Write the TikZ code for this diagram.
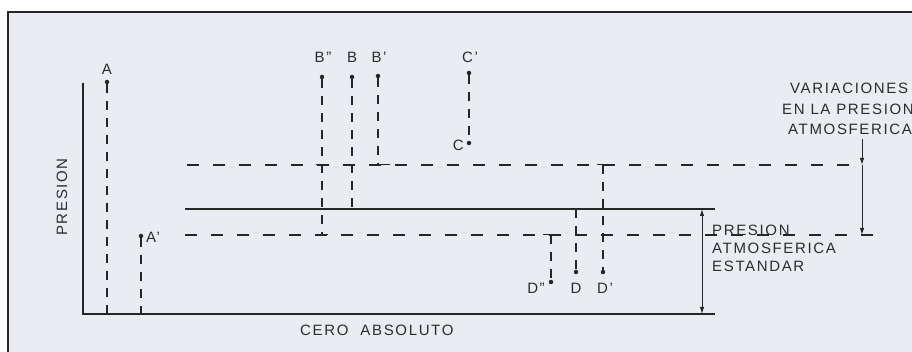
\documentclass[tikz,border=0pt]{standalone}
\usepackage{fontspec}
\newfontfamily\lbl{Liberation Sans}[LetterSpace=11]
\usetikzlibrary{arrows.meta}
\definecolor{bg}{HTML}{E9EDF1}
\definecolor{ink}{HTML}{262626}
\definecolor{txt}{HTML}{2C2C2C}
\begin{document}
\begin{tikzpicture}[x=1pt,y=-1pt,
  solidln/.style={draw=ink, line width=1.2pt},
  hdash/.style={draw=ink, line width=1.1pt, dash pattern=on 12pt off 14pt},
  vdash/.style={draw=ink, line width=1.1pt, dash pattern=on 9pt off 8pt},
  thin/.style={draw=ink, line width=1pt},
  dot/.style={circle, fill=ink, inner sep=0pt, minimum size=4.5pt},
  lab/.style={font=\lbl\fontsize{15}{18}\selectfont, text=txt, inner sep=0pt},
  arr/.style={-{Latex[length=7pt,width=4.5pt]}},
  darr/.style={{Latex[length=7pt,width=4.5pt]}-{Latex[length=7pt,width=4.5pt]}}]
\useasboundingbox (0,0) rectangle (912,352);
\fill[white] (0,0) rectangle (912,352);
\fill[bg] (8,12) rectangle (912,352);
\draw[ink, line width=1.2pt] (8,352) -- (8,12) -- (912,12);

% axes
\coordinate (axT) at (83,83);
\coordinate (axO) at (83,314);
\coordinate (axE) at (715,314);
\draw[solidln] (axT) -- (axO) -- (axE);

% reference lines
\coordinate (sL) at (185,209); \coordinate (sR) at (715,209);
\coordinate (uL) at (187,165); \coordinate (uR) at (862,165);
\coordinate (lL) at (185,235); \coordinate (lR) at (878,235);
\draw[solidln] (sL) -- (sR);
\draw[hdash] (uL) -- (uR);
\draw[hdash] (lL) -- (lR);

% point A
\node[dot] (A) at (107,82) {};
\node[lab] (lA) at (107,69) {A};
\draw[vdash] (A) -- (A |- axO);
% point A'
\node[dot] (Ap) at (141,236) {};
\node[lab, anchor=west] (lAp) at (146,237) {A’};
\draw[vdash] (Ap) -- (Ap |- axO);

% B points
\node[dot] (Bpp) at (322,77) {};
\node[lab] (lBpp) at (323,57) {B”};
\draw[vdash] (Bpp) -- (Bpp |- lL);
\draw[thin] (316,235) -- (328,235);
\draw[thin] (316,165) -- (328,165);
\node[dot] (B) at (352,77) {};
\node[lab] (lB) at (352,57) {B};
\draw[vdash] (B) -- (B |- sL);
\node[dot] (Bp) at (378,76) {};
\node[lab] (lBp) at (379,57) {B’};
\draw[vdash] (Bp) -- (Bp |- uL);
\draw[thin] (378,165) -- (390,165);

% C points
\node[dot] (Cp) at (469,73) {};
\node[lab] (lCp) at (470,57) {C’};
\node[dot] (C) at (469,143) {};
\node[lab, anchor=east] (lC) at (464,145) {C};
\draw[vdash] (Cp) -- (C);

% D points
\node[dot] (Dpp) at (551,282) {};
\node[lab] (lDpp) at (536,288) {D”};
\draw[vdash] (Dpp |- lL) -- (Dpp);
\draw[thin] (543,235) -- (551,235);
\node[dot] (D) at (576,272) {};
\node[lab] (lD) at (576,288) {D};
\draw[vdash] (D |- sL) -- (D);
\node[dot] (Dp) at (603,272) {};
\node[lab] (lDp) at (605,288) {D’};
\draw[vdash] (Dp |- uL) -- (Dp);
\draw[thin] (597,165) -- (609,165);

% dimension: standard atmospheric pressure
\coordinate (dT) at (702,209);
\coordinate (dB) at (702,314);
\draw[thin, darr] (dT) -- (dB);
\node[lab, anchor=west, align=left] (lStd) at (712,248)
  {PRESION\\ATMOSFERICA\\ESTANDAR};

% variations arrow
\coordinate (vT) at (862,139);
\coordinate (vU) at (862,165);
\coordinate (vL) at (862,235);
\draw[thin, arr] (vT) -- (vU);
\draw[thin, arr] (vU) -- (vL);
\node[lab, anchor=west] (lV1) at (790,88) {VARIACIONES};
\node[lab, anchor=west] (lV2) at (782,109) {EN LA PRESION};
\node[lab, anchor=west] (lV3) at (788,129) {ATMOSFERICA};

% axis labels
\node[lab, rotate=90] (lP) at (62,197) {PRESION};
\node[lab, anchor=west] (lCero) at (300,330) {CERO\hspace{12pt}ABSOLUTO};
\end{tikzpicture}
\end{document}
